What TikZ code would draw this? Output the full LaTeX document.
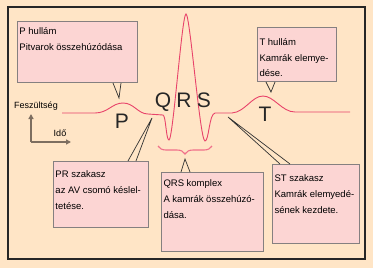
\documentclass[tikz,border=0pt]{standalone}
\usepackage{fontspec}
\setmainfont{Liberation Sans}
\usetikzlibrary{arrows.meta,decorations.pathreplacing,calc}
\definecolor{ecgbg}{HTML}{FFE5C6}
\definecolor{notefill}{HTML}{FCD5D3}
\definecolor{notedraw}{HTML}{858080}
\definecolor{ecgred}{HTML}{E8436A}
\definecolor{bracered}{HTML}{F0708A}
\definecolor{axisbrown}{HTML}{7D6E60}
\tikzset{
    notebox/.style={draw=notedraw, fill=notefill, line width=1pt, anchor=north west,
        inner xsep=2pt, inner ysep=3pt, font=\fontsize{9.5}{16}\selectfont},
    pointer/.style={draw=black!80, line width=0.7pt},
    wavelabel/.style={anchor=base, font=\fontsize{21}{21}\selectfont, text=black!85},
    axislabel/.style={font=\fontsize{9}{9}\selectfont},
    ecgline/.style={draw=ecgred, line width=0.9pt},
    ecgbrace/.style={draw=bracered, line width=1.1pt,
        decorate, decoration={brace, mirror, amplitude=8pt}},
    axisarrow/.style={-{Triangle[length=5pt,width=5pt]}, draw=axisbrown, line width=1.5pt}
}
% width, height, first line strut, lines
\newcommand{\notetext}[4]{\parbox[t][#2][t]{#1}{\raggedright\rule{0pt}{#3}#4}}

\begin{document}
\begin{tikzpicture}[x=1pt, y=-1pt]
\useasboundingbox (0,0) rectangle (373,268);
\fill[ecgbg] (0,0) rectangle (373,268);
\draw[line width=1.3pt, draw=black!85] (8,7) rectangle (365,259);

% the curve
\draw[ecgline] (62,113) -- (95,113)
    .. controls (108,113) and (112,103) .. (123,103)
    .. controls (134,103) and (138,114) .. (148,114) -- (163,115)
    .. controls (166,116) and (166,140) .. (169,140)
    .. controls (173,140) and (182,14) .. (186,14)
    .. controls (190,14) and (200,141) .. (205,141)
    .. controls (209,141) and (209,114) .. (215,113) -- (232,113)
    .. controls (245,112) and (252,96) .. (263,96)
    .. controls (274,96) and (282,112) .. (295,112) -- (350,112);
\draw[ecgbrace] (158,146) -- (212,146);

\node[wavelabel] (plabel) at (122,128) {P};
\node[wavelabel] (qlabel) at (163,107) {Q};
\node[wavelabel] (rlabel) at (184,107) {R};
\node[wavelabel] (slabel) at (204,107) {S};
\node[wavelabel] (tlabel) at (265,121) {T};

% axes
\coordinate (origin) at (31,142);
\coordinate (vtip) at (31,114);
\coordinate (htip) at (71,142);
\draw[axisarrow] (origin) -- (vtip);
\draw[axisarrow] (origin) -- (htip);
\node[axislabel] (voltlabel) at (36,106) {Feszültség};
\node[axislabel] (timelabel) at (60,133) {Idő};

% notes
\node[notebox] (pnote) at (17,21) {\notetext{116pt}{55pt}{9.5pt}{P hullám\\Pitvarok összehúzódása}};
\node[notebox] (tnote) at (257,27) {\notetext{75pt}{48pt}{14.5pt}{T hullám\\Kamrák elemye-\\dése.}};
\node[notebox] (prnote) at (53,161) {\notetext{91pt}{60pt}{12.5pt}{PR szakasz\\az AV csomó késlel-\\tetése.}};
\node[notebox] (qrsnote) at (161,172) {\notetext{98pt}{73pt}{10.5pt}{QRS komplex\\A kamrák összehúzó-\\dása.}};
\node[notebox] (stnote) at (272,164) {\notetext{83pt}{73pt}{13.5pt}{ST szakasz\\Kamrák elemyedé-\\sének kezdete.}};

\coordinate (ptip) at (119,98);
\coordinate (ttip) at (271,92);
\coordinate (prtip) at (152,118);
\coordinate (qrstip) at (185,159);
\coordinate (sttip) at (228,117);
\draw[pointer] ([xshift=96pt]pnote.south west) -- (ptip) -- ([xshift=104pt]pnote.south west);
\draw[pointer] ([xshift=9pt]tnote.south west) -- (ttip) -- ([xshift=18pt]tnote.south west);
\draw[pointer] ([xshift=75pt]prnote.north west) -- (prtip) -- ([xshift=83pt]prnote.north west);
\draw[pointer] ([xshift=20pt]qrsnote.north west) -- (qrstip) -- ([xshift=29pt]qrsnote.north west);
\draw[pointer] ([xshift=8pt]stnote.north west) -- (sttip) -- ([xshift=18pt]stnote.north west);
\end{tikzpicture}
\end{document}
